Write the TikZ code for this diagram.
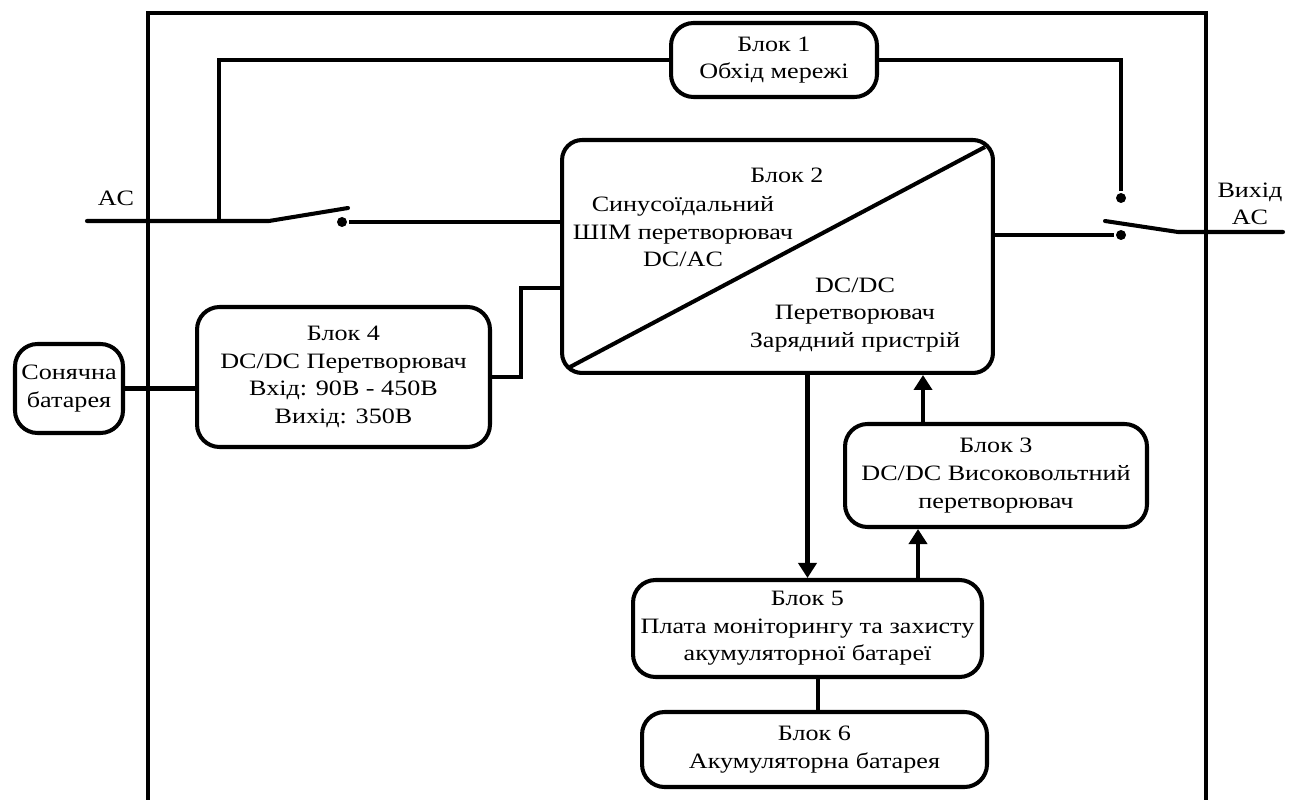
\documentclass[tikz,border=0pt]{standalone}
\usepackage{fontspec}
\setmainfont{Liberation Serif}[FakeStretch=1.19]
\usetikzlibrary{arrows.meta}

\begin{document}
\begin{tikzpicture}[x=0.02cm,y=-0.02cm,line width=2.3pt,
	blok/.style={draw,rounded corners=0.45cm,align=center,inner sep=0pt,font=\fontsize{12.5}{15.7}\selectfont},
	napys/.style={align=center,inner sep=0pt,font=\fontsize{12.5}{15.7}\selectfont},
	kontakt/.style={circle,fill,inner sep=0pt,minimum size=0.2cm},
	strilka/.style={-{Triangle[length=0.3cm,width=0.36cm]}}]
	\useasboundingbox (0,0) rectangle (1300,800);
	
	%Blocks
	\node[blok,minimum width=4.12cm,minimum height=1.48cm] (B1) at (774,60) {Блок 1\\Обхід мережі};
	\node[blok,minimum width=8.62cm,minimum height=4.66cm,rounded corners=0.4cm] (B2) at (777.5,256.5) {};
	\node[blok,minimum width=6.04cm,minimum height=2.06cm] (B3) at (996,475.5) {Блок 3\\DC/DC Високовольтний\\перетворювач};
	\node[blok,minimum width=5.86cm,minimum height=2.8cm] (B4) at (343.5,377) {Блок 4\\DC/DC Перетворювач\\Вхід: 90В - 450В\\Вихід: 350В};
	\node[blok,minimum width=6.98cm,minimum height=1.94cm] (B5) at (807.5,628.5) {Блок 5\\Плата моніторингу та захисту\\акумуляторної батареї};
	\node[blok,minimum width=6.9cm,minimum height=1.5cm] (B6) at (814.5,749.5) {Блок 6\\Акумуляторна батарея};
	\node[blok,minimum width=2.16cm,minimum height=1.78cm] (S) at (69,388.5) {Сонячна\\батарея};
	
	%Texts of block 2
	\node[napys] (T2) at (787,175) {Блок 2};
	\node[napys] (T2a) at (683,232) {Синусоїдальний\\ШІМ перетворювач\\DC/AC};
	\node[napys] (T2b) at (855,315) {DC/DC\\Перетворювач\\Зарядний пристрій};
	\node[napys] (ACl) at (116,198) {AC};
	\node[napys] (ACr) at (1250,204) {Вихід\\AC};
	
	\coordinate (ACin) at (87,221);
	\coordinate (J1) at (219,221);
	\coordinate (K1a) at (269,221);
	\coordinate (K1b) at (348,208);
	\node[kontakt] (K1c) at (342,222) {};
	\coordinate (J2) at (1121,60);
	\node[kontakt] (K2a) at (1121,198) {};
	\node[kontakt] (K2b) at (1121,235) {};
	\coordinate (K2c) at (1105,221);
	\coordinate (K2d) at (1178,232);
	\coordinate (ACout) at (1283,232);
	\coordinate (J3) at (521,288);
	\coordinate (X3) at (923,400);
	\coordinate (X5) at (918,550);
	\coordinate (X6) at (818,700);
	
	%Outer frame
	\draw (148,800) -- (148,13) -- (1206,13) -- (1206,800);
	
	%Bypass
	\draw (J1) -- (J1 |- B1.west) -- (B1.west);
	\draw (B1.east) -- (J2) -- (K2a);
	
	%Switches
	\draw[line cap=round] (ACin) -- (K1a) -- (K1b);
	\draw (K1c) -- (K1c -| B2.west);
	\draw (B2.east |- K2b) -- (K2b);
	\draw[line cap=round] (K2c) -- (K2d) -- (ACout);
	
	%Diagonal of block 2
	\draw ([shift={(10,-8)}]B2.south west) -- ([shift={(-10,9)}]B2.north east);
	
	%Links
	\draw (S.east) -- (S.east -| B4.west);
	\draw (B4.east) -- (B4.east -| J3) -- (J3) -- (J3 -| B2.west);
	\draw[strilka] (B5.north |- B2.south) -- (B5.north);
	\draw[strilka] (X3 |- B3.north) -- (X3 |- B2.south);
	\draw[strilka] (X5 |- B5.north) -- (X5 |- B3.south);
	\draw (X6 |- B5.south) -- (X6 |- B6.north);
	
\end{tikzpicture}
\end{document}
